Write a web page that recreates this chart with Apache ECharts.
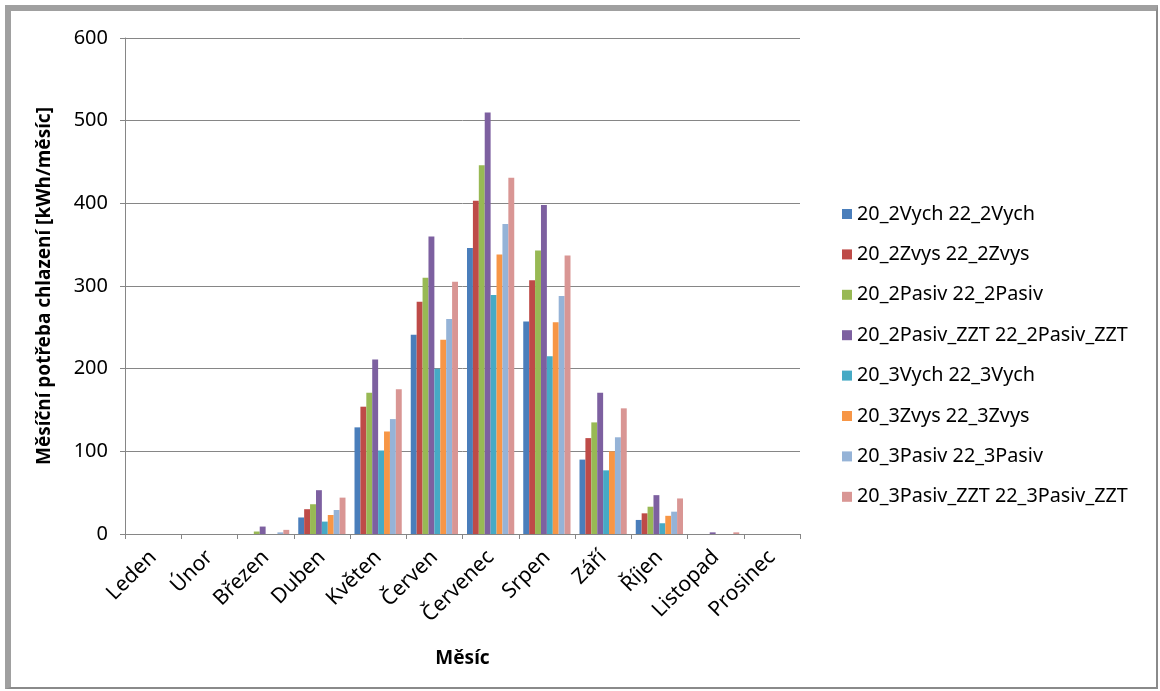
<!DOCTYPE html>
<html lang="cs">
<head>
    <meta charset="UTF-8">
    <title>Měsíční potřeba chlazení</title>
    <script src="https://cdn.jsdelivr.net/npm/echarts@6/dist/echarts.min.js"></script>
    <style>
        *{
            padding: 0;
            margin: 0;
        }
        html, body{
            width: 100%;
            height: 100%;
            background: #fff;
        }
        .echarts{
            width: 1160px;
            height: 691px;
        }
        .frame{
            position: absolute;
            left: 5px;
            top: 5px;
            width: 1145px;
            height: 676px;
            border-left: 6px solid #a0a0a0;
            border-top: 6px solid #a0a0a0;
            border-right: 2px solid #8a8a8a;
            border-bottom: 2px solid #8a8a8a;
            pointer-events: none;
        }
    </style>
</head>
<body>
<div class="echarts"></div>
<div class="frame"></div>
<script>
    // data (kWh per month)
    let months = ['Leden', 'Únor', 'Březen', 'Duben', 'Květen', 'Červen', 'Červenec', 'Srpen', 'Září', 'Říjen', 'Listopad', 'Prosinec'];
    let names = ['20_2Vych 22_2Vych', '20_2Zvys 22_2Zvys', '20_2Pasiv 22_2Pasiv', '20_2Pasiv_ZZT 22_2Pasiv_ZZT',
        '20_3Vych 22_3Vych', '20_3Zvys 22_3Zvys', '20_3Pasiv 22_3Pasiv', '20_3Pasiv_ZZT 22_3Pasiv_ZZT'];
    let colors = ['#4a7ebb', '#be4b48', '#98b954', '#7d60a0', '#46aac5', '#f79646', '#95b3d7', '#d99694'];

    let vych2      = [0, 0, 0, 20, 129, 241, 346, 257, 90, 17, 0, 0];
    let zvys2      = [0, 0, 0, 30, 154, 281, 403, 307, 116, 25, 0, 0];
    let pasiv2     = [0, 0, 3, 36, 171, 310, 446, 343, 135, 33, 0, 0];
    let pasivZzt2  = [0, 0, 9, 53, 211, 360, 510, 398, 171, 47, 2, 0];
    let vych3      = [0, 0, 0, 15, 101, 200, 289, 215, 77, 13, 0, 0];
    let zvys3      = [0, 0, 0, 23, 124, 235, 338, 256, 100, 22, 0, 0];
    let pasiv3     = [0, 0, 2, 29, 139, 260, 375, 288, 117, 27, 0, 0];
    let pasivZzt3  = [0, 0, 5, 44, 175, 305, 431, 337, 152, 43, 2, 0];

    let yTicks = [0, 100, 200, 300, 400, 500, 600];

    window.onload = function () {
        let main = document.querySelector('.echarts');
        let myCharts = echarts.init(main);
        let font = '"Noto Sans", "DejaVu Sans", sans-serif';
        let values = [vych2, zvys2, pasiv2, pasivZzt2, vych3, zvys3, pasiv3, pasivZzt3];

        let series = names.map((name, i) => ({
            name: name,
            type: 'bar',
            data: values[i],
            barGap: '0%',
            barCategoryGap: '16%',
            itemStyle: {color: colors[i]},
            animation: false
        }));

        let option = {
            backgroundColor: '#fff',
            textStyle: {fontFamily: font},
            grid: {
                left: 125,
                right: 360,
                top: 38,
                bottom: 157
            },
            legend: {
                orient: 'vertical',
                left: 837,
                top: 199,
                itemWidth: 10,
                itemHeight: 10,
                itemGap: 20.4,
                icon: 'rect',
                data: names,
                textStyle: {
                    fontFamily: font,
                    fontSize: 19.8,
                    lineHeight: 20,
                    color: '#000'
                }
            },
            xAxis: {
                type: 'category',
                data: months,
                name: 'Měsíc',
                nameLocation: 'middle',
                nameGap: 115,
                nameTextStyle: {fontFamily: font, fontSize: 19, fontWeight: 'bold', color: '#000'},
                axisLine: {lineStyle: {color: '#868686'}},
                axisTick: {show: true, length: 5, lineStyle: {color: '#868686'}},
                axisLabel: {
                    rotate: 45,
                    interval: 0,
                    fontSize: 21,
                    color: '#000',
                    fontFamily: font,
                    margin: 20
                }
            },
            yAxis: {
                type: 'value',
                min: yTicks[0],
                max: yTicks[yTicks.length - 1],
                interval: 100,
                name: 'Měsíční potřeba chlazení [kWh/měsíc]',
                nameLocation: 'middle',
                nameGap: 71,
                nameTextStyle: {fontFamily: font, fontSize: 19, fontWeight: 'bold', color: '#000'},
                axisLine: {show: true, lineStyle: {color: '#868686'}},
                axisTick: {show: true, length: 5, lineStyle: {color: '#868686'}},
                splitLine: {lineStyle: {color: '#868686'}},
                axisLabel: {
                    fontSize: 20,
                    color: '#000',
                    fontFamily: font,
                    margin: 17
                }
            },
            series
        };
        myCharts.setOption(option);
    }
</script>
</body>
</html>
